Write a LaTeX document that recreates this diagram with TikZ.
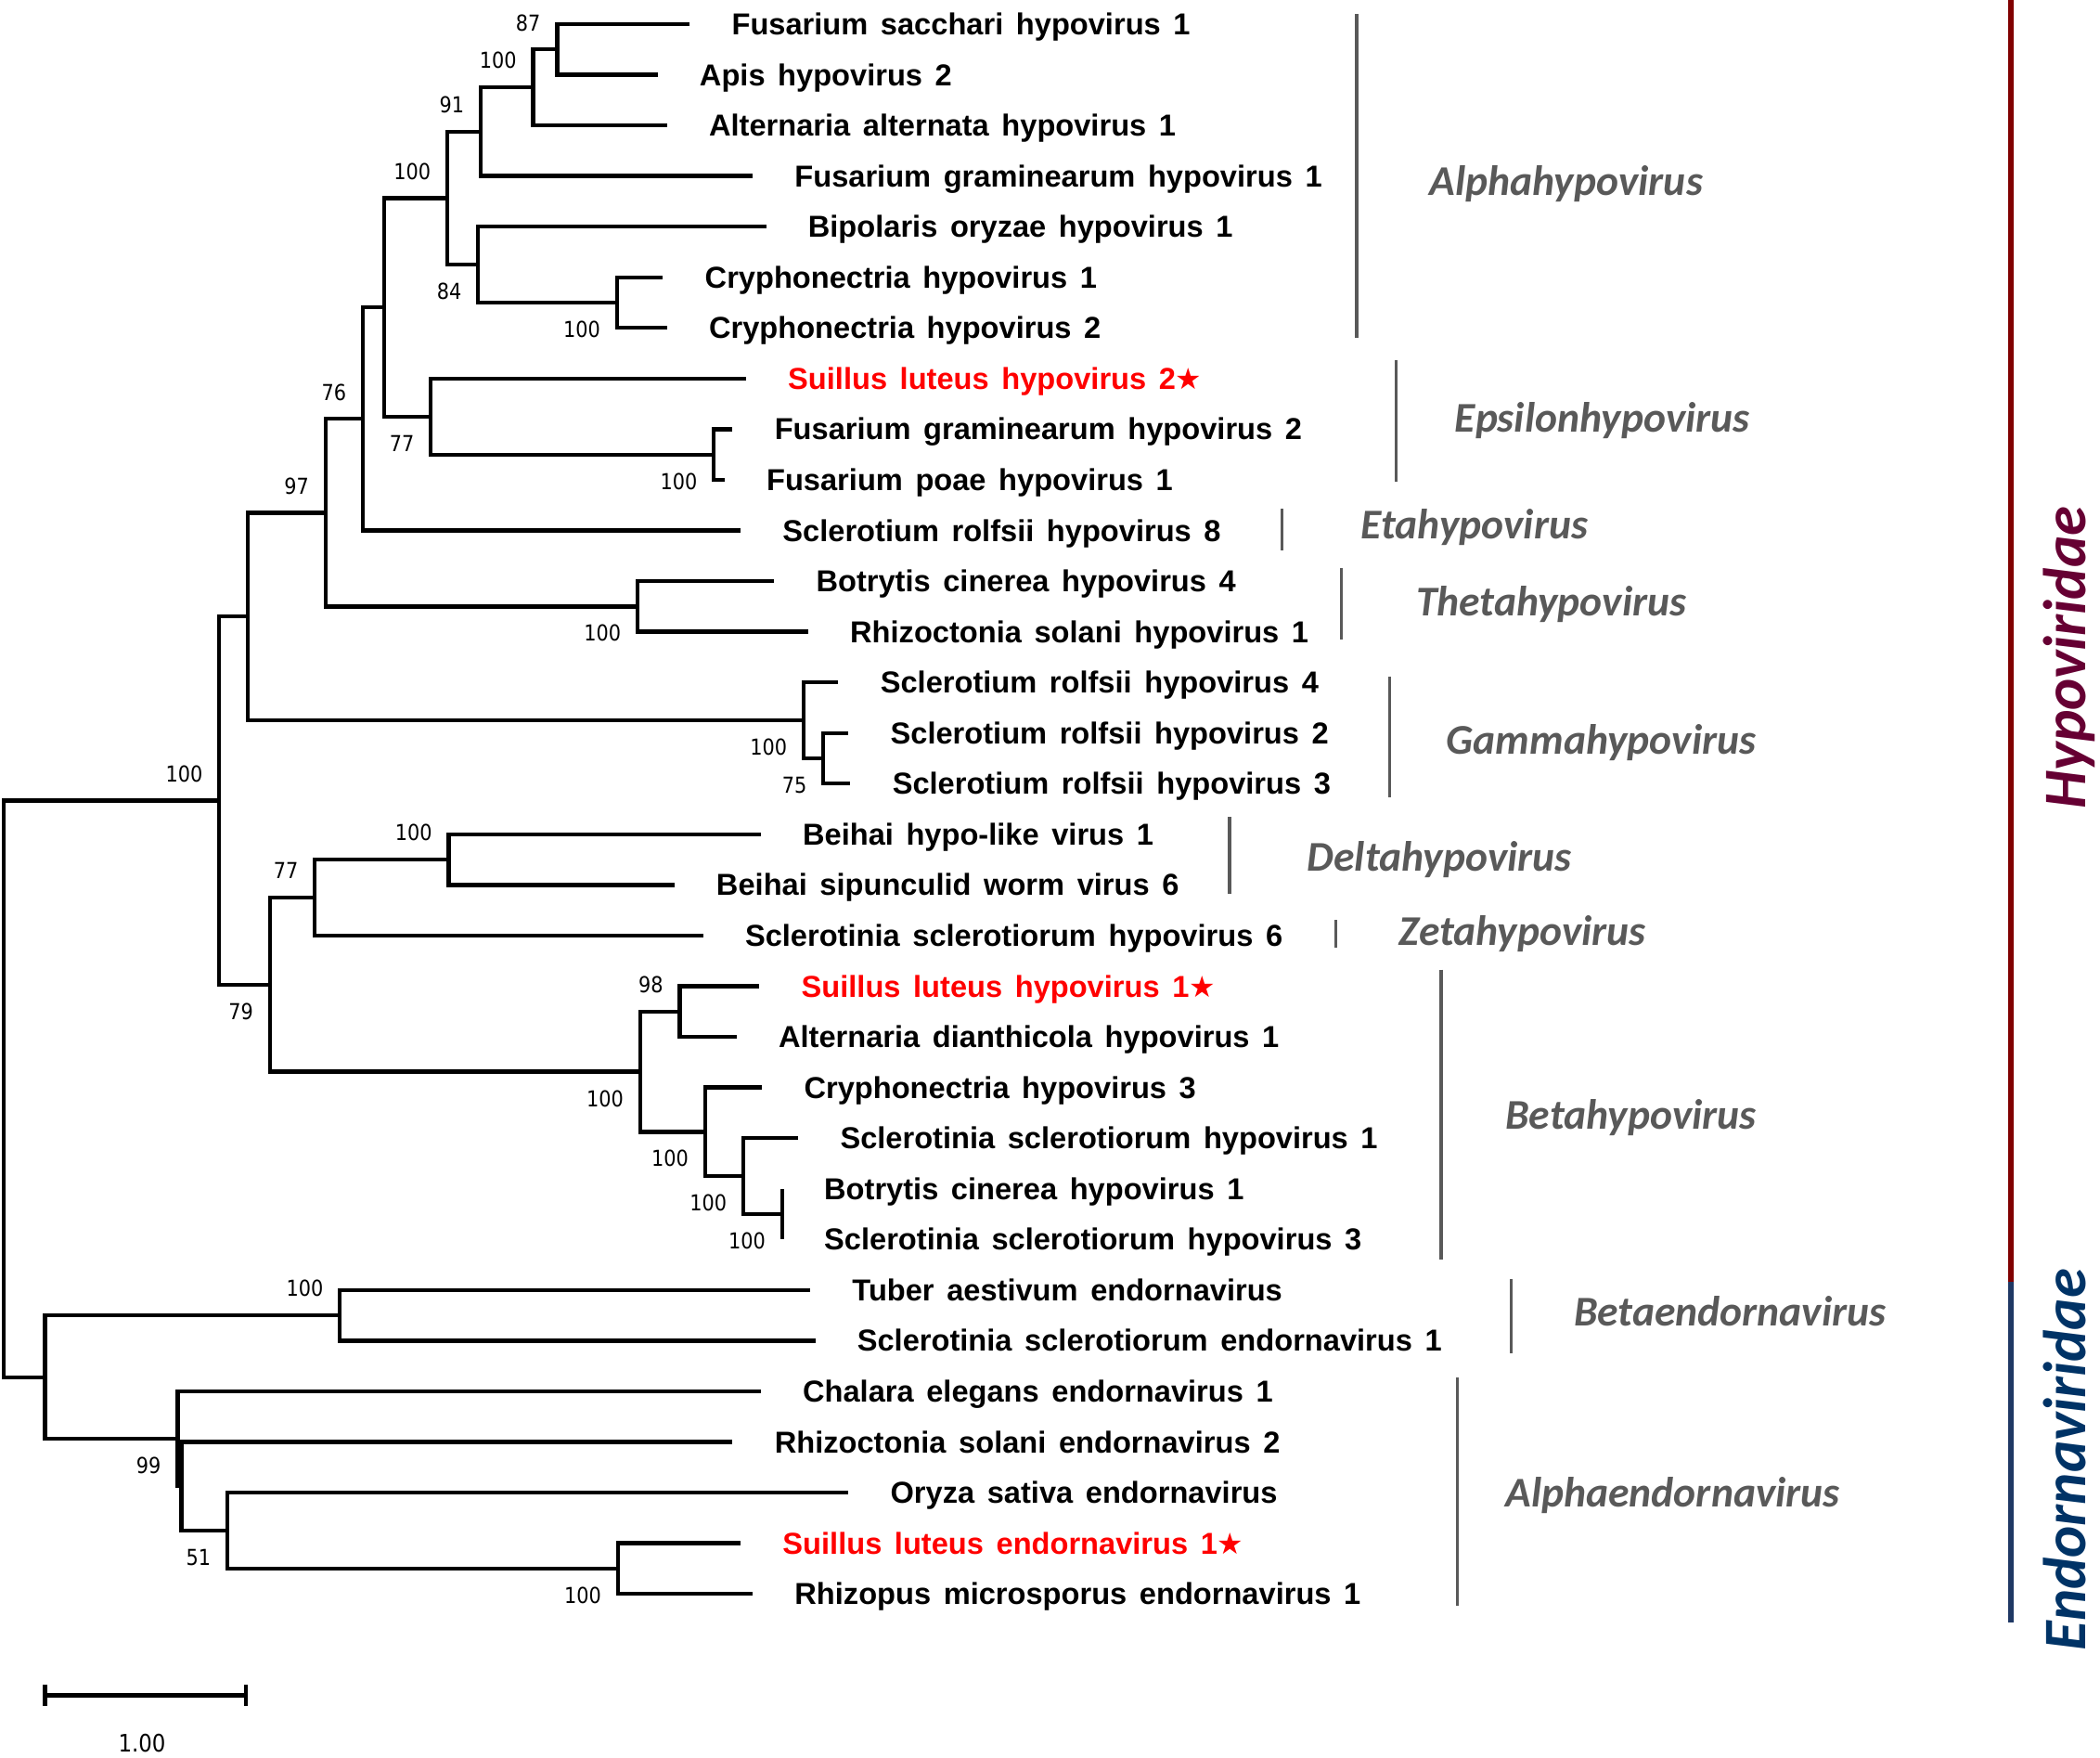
\documentclass[tikz,border=0pt]{standalone}
\usepackage{fontspec}
\setmainfont{Liberation Sans}
\newfontfamily\leaffont{Liberation Sans}[WordSpace=1.5]
\newfontfamily\bootfont{DejaVu Sans}[FakeStretch=0.88]
\newfontfamily\genusfont{Carlito}
\newfontfamily\starfont{DejaVu Sans}
\definecolor{cladegray}{RGB}{89,89,89}
\definecolor{hypored}{RGB}{128,0,0}
\definecolor{hypotext}{RGB}{102,0,51}
\definecolor{endoblue}{RGB}{31,56,100}
\definecolor{endotext}{RGB}{0,51,102}
\newcommand{\virstar}{{\starfont\fontsize{11}{12}\selectfont ★}}
\tikzset{
  branch/.style={line width=1.5pt, line join=miter},
  leaf/.style={font={\leaffont\bfseries\fontsize{11.3}{13}\selectfont}, anchor=base west,
    inner sep=0pt, xshift=15.5pt, yshift=-4pt},
  ours/.style={leaf, text=red},
  boot/.style={font={\bootfont\fontsize{8.2}{9}\selectfont}, anchor=east, inner sep=0pt, xshift=-6pt},
  bup/.style={boot, yshift=10pt},
  bdn/.style={boot, yshift=-10pt},
  clade/.style={cladegray, line width=1.1pt},
  genus/.style={font={\genusfont\bfseries\itshape\fontsize{15.8}{18}\selectfont}, text=cladegray,
    anchor=base west, inner sep=0pt, yshift=-5pt},
  family/.style={font={\genusfont\bfseries\itshape\fontsize{22.5}{26}\selectfont}, rotate=90,
    anchor=base, inner sep=0pt}
}
\begin{document}
\begin{tikzpicture}[x=0.5pt, y=-0.5pt]
  \useasboundingbox (0,0) rectangle (1568,1312);
  % tips
  \coordinate (t1) at (515,18);
  \coordinate (t2) at (491,55.8);
  \coordinate (t3) at (498,93.6);
  \coordinate (t4) at (562,131.4);
  \coordinate (t5) at (572,169.2);
  \coordinate (t6) at (495,207);
  \coordinate (t7) at (498,244.8);
  \coordinate (t8) at (557,282.6);
  \coordinate (t9) at (547,320.4);
  \coordinate (t10) at (541,358.2);
  \coordinate (t11) at (553,396);
  \coordinate (t12) at (578,433.8);
  \coordinate (t13) at (603.4,471.6);
  \coordinate (t14) at (626,509.4);
  \coordinate (t15) at (633.5,547.2);
  \coordinate (t16) at (635,585);
  \coordinate (t17) at (568,622.8);
  \coordinate (t18) at (503.5,660.6);
  \coordinate (t19) at (525,698.4);
  \coordinate (t20) at (567,736.2);
  \coordinate (t21) at (550,774);
  \coordinate (t22) at (569,811.8);
  \coordinate (t23) at (596,849.6);
  \coordinate (t24) at (584,887.4);
  \coordinate (t25) at (584,925.2);
  \coordinate (t26) at (605,963);
  \coordinate (t27) at (608.7,1000.8);
  \coordinate (t28) at (568,1038.6);
  \coordinate (t29) at (547,1076.4);
  \coordinate (t30) at (633.5,1114.2);
  \coordinate (t31) at (553,1152);
  \coordinate (t32) at (562,1189.8);
  % inner nodes
  \coordinate (root) at (3,812.8);
  \coordinate (hypo) at (163.7,597.6);
  \coordinate (endo) at (33.6,1028);
  \coordinate (nx) at (185,460.2);
  \coordinate (n79) at (201.5,735);
  \coordinate (n97) at (243,382.7);
  \coordinate (gam) at (600,537.75);
  \coordinate (n75) at (614.7,566.1);
  \coordinate (n76) at (271,312.7);
  \coordinate (the) at (476,452.7);
  \coordinate (nad) at (287,229.4);
  \coordinate (alp) at (334,147.9);
  \coordinate (n91) at (359,98.3);
  \coordinate (naa) at (398,65.25);
  \coordinate (n87) at (416,36.9);
  \coordinate (n84) at (357,197.55);
  \coordinate (cry) at (460.6,225.9);
  \coordinate (eps) at (321.7,310.95);
  \coordinate (fus) at (533,339.3);
  \coordinate (n77) at (235,670.05);
  \coordinate (bei) at (335,641.7);
  \coordinate (bet) at (478,800);
  \coordinate (n98) at (507.6,755.1);
  \coordinate (nbh) at (526.4,844.9);
  \coordinate (nbi) at (555,877.95);
  \coordinate (nbj) at (584,906.3);
  \coordinate (bend) at (253.8,981.9);
  \coordinate (n99) at (132.6,1074);
  \coordinate (m) at (135.4,1109.5);
  \coordinate (n51) at (169.7,1142.55);
  \coordinate (rhi) at (461.3,1170.9);
  % branches
  \draw[branch] (root) |- (hypo) (root) |- (endo)
    (hypo) |- (nx) (hypo) |- (n79)
    (nx) |- (n97) (nx) |- (gam)
    (n97) |- (n76) (n97) |- (the)
    (n76) |- (nad) (n76) |- (t11)
    (nad) |- (alp) (nad) |- (eps)
    (alp) |- (n91) (alp) |- (n84)
    (n91) |- (naa) (n91) |- (t4)
    (naa) |- (n87) (naa) |- (t3)
    (n87) |- (t1) (n87) |- (t2)
    (n84) |- (t5) (n84) |- (cry)
    (cry) |- (t6) (cry) |- (t7)
    (eps) |- (t8) (eps) |- (fus)
    (fus) |- (t9) (fus) |- (t10)
    (the) |- (t12) (the) |- (t13)
    (gam) |- (t14) (gam) |- (n75)
    (n75) |- (t15) (n75) |- (t16)
    (n79) |- (n77) (n79) |- (bet)
    (n77) |- (bei) (n77) |- (t19)
    (bei) |- (t17) (bei) |- (t18)
    (bet) |- (n98) (bet) |- (nbh)
    (n98) |- (t20) (n98) |- (t21)
    (nbh) |- (t22) (nbh) |- (nbi)
    (nbi) |- (t23) (nbi) |- (nbj)
    (nbj) |- (t24) (nbj) |- (t25)
    (endo) |- (bend) (endo) |- (n99)
    (bend) |- (t26) (bend) |- (t27)
    (n99) |- (t28) (n99) |- (m)
    (m) |- (t29) (m) |- (n51)
    (n51) |- (t30) (n51) |- (rhi)
    (rhi) |- (t31) (rhi) |- (t32);
  % bootstrap values
  \node[bup] (b1) at (n87) {87};
  \node[bup] (b2) at (naa) {100};
  \node[bup] (b3) at (n91) {91};
  \node[bup] (b4) at (alp) {100};
  \node[bdn] (b5) at (n84) {84};
  \node[bdn] (b6) at (cry) {100};
  \node[bup] (b7) at (n76) {76};
  \node[bdn] (b8) at (eps) {77};
  \node[bdn] (b9) at (fus) {100};
  \node[bup] (b10) at (n97) {97};
  \node[bdn] (b11) at (the) {100};
  \node[bdn] (b12) at (gam) {100};
  \node[bdn] (b13) at (n75) {75};
  \node[bup] (b14) at (hypo) {100};
  \node[bup] (b15) at (bei) {100};
  \node[bup] (b16) at (n77) {77};
  \node[bdn] (b17) at (n79) {79};
  \node[bup] (b18) at (n98) {98};
  \node[bdn] (b19) at (bet) {100};
  \node[bdn] (b20) at (nbh) {100};
  \node[bdn] (b21) at (nbi) {100};
  \node[bdn] (b22) at (nbj) {100};
  \node[bup] (b23) at (bend) {100};
  \node[bdn] (b24) at (n99) {99};
  \node[bdn] (b25) at (n51) {51};
  \node[bdn] (b26) at (rhi) {100};
  % taxa
  \node[leaf] (l1) at (t1) {Fusarium sacchari hypovirus 1};
  \node[leaf] (l2) at (t2) {Apis hypovirus 2};
  \node[leaf] (l3) at (t3) {Alternaria alternata hypovirus 1};
  \node[leaf] (l4) at (t4) {Fusarium graminearum hypovirus 1};
  \node[leaf] (l5) at (t5) {Bipolaris oryzae hypovirus 1};
  \node[leaf] (l6) at (t6) {Cryphonectria hypovirus 1};
  \node[leaf] (l7) at (t7) {Cryphonectria hypovirus 2};
  \node[ours] (l8) at (t8) {Suillus luteus hypovirus 2\virstar};
  \node[leaf] (l9) at (t9) {Fusarium graminearum hypovirus 2};
  \node[leaf] (l10) at (t10) {Fusarium poae hypovirus 1};
  \node[leaf] (l11) at (t11) {Sclerotium rolfsii hypovirus 8};
  \node[leaf] (l12) at (t12) {Botrytis cinerea hypovirus 4};
  \node[leaf] (l13) at (t13) {Rhizoctonia solani hypovirus 1};
  \node[leaf] (l14) at (t14) {Sclerotium rolfsii hypovirus 4};
  \node[leaf] (l15) at (t15) {Sclerotium rolfsii hypovirus 2};
  \node[leaf] (l16) at (t16) {Sclerotium rolfsii hypovirus 3};
  \node[leaf] (l17) at (t17) {Beihai hypo-like virus 1};
  \node[leaf] (l18) at (t18) {Beihai sipunculid worm virus 6};
  \node[leaf] (l19) at (t19) {Sclerotinia sclerotiorum hypovirus 6};
  \node[ours] (l20) at (t20) {Suillus luteus hypovirus 1\virstar};
  \node[leaf] (l21) at (t21) {Alternaria dianthicola hypovirus 1};
  \node[leaf] (l22) at (t22) {Cryphonectria hypovirus 3};
  \node[leaf] (l23) at (t23) {Sclerotinia sclerotiorum hypovirus 1};
  \node[leaf] (l24) at (t24) {Botrytis cinerea hypovirus 1};
  \node[leaf] (l25) at (t25) {Sclerotinia sclerotiorum hypovirus 3};
  \node[leaf] (l26) at (t26) {Tuber aestivum endornavirus};
  \node[leaf] (l27) at (t27) {Sclerotinia sclerotiorum endornavirus 1};
  \node[leaf] (l28) at (t28) {Chalara elegans endornavirus 1};
  \node[leaf] (l29) at (t29) {Rhizoctonia solani endornavirus 2};
  \node[leaf] (l30) at (t30) {Oryza sativa endornavirus};
  \node[ours] (l31) at (t31) {Suillus luteus endornavirus 1\virstar};
  \node[leaf] (l32) at (t32) {Rhizopus microsporus endornavirus 1};
  % genera
  \draw[clade] (1013,10.5) -- (1013,252);
  \draw[clade] (1042.5,268.7) -- (1042.5,359.8);
  \draw[clade] (957,380) -- (957,411);
  \draw[clade] (1001.7,424) -- (1001.7,477.7);
  \draw[clade] (1037.5,505) -- (1037.5,595);
  \draw[clade] (918,610) -- (918,667);
  \draw[clade] (997.5,686.7) -- (997.5,707.5);
  \draw[clade] (1076,723.8) -- (1076,940);
  \draw[clade] (1128.3,954.5) -- (1128.3,1010);
  \draw[clade] (1088.2,1028.3) -- (1088.2,1198.5);
  \node[genus] (g1) at (1067,136) {Alphahypovirus};
  \node[genus] (g2) at (1086,312.7) {Epsilonhypovirus};
  \node[genus] (g3) at (1016,392.5) {Etahypovirus};
  \node[genus] (g4) at (1057,450) {Thetahypovirus};
  \node[genus] (g5) at (1079.5,553) {Gammahypovirus};
  \node[genus] (g6) at (975.7,640) {Deltahypovirus};
  \node[genus] (g7) at (1044.4,695.8) {Zetahypovirus};
  \node[genus] (g8) at (1123.7,832.7) {Betahypovirus};
  \node[genus] (g9) at (1174.8,979.6) {Betaendornavirus};
  \node[genus] (g10) at (1123.7,1115) {Alphaendornavirus};
  % families
  \draw[hypored, line width=2pt] (1501.5,0) -- (1501.5,957);
  \draw[endoblue, line width=2pt] (1501.5,957) -- (1501.5,1211.4);
  \node[family, text=hypotext] (f1) at (1557,491) {Hypoviridae};
  \node[family, text=endotext] (f2) at (1557,1089.6) {Endornaviridae};
  % scale bar
  \coordinate (s1) at (33.6,1265.6);
  \coordinate (s2) at (183.8,1265.6);
  \draw[branch] (s1) -- (s2);
  \draw[branch] ([yshift=4pt]s1) -- ([yshift=-4pt]s1);
  \draw[branch] ([yshift=4pt]s2) -- ([yshift=-4pt]s2);
  \node[font={\bootfont\fontsize{9}{10}\selectfont}, inner sep=0pt] (sl) at (106,1301) {1.00};
\end{tikzpicture}
\end{document}
